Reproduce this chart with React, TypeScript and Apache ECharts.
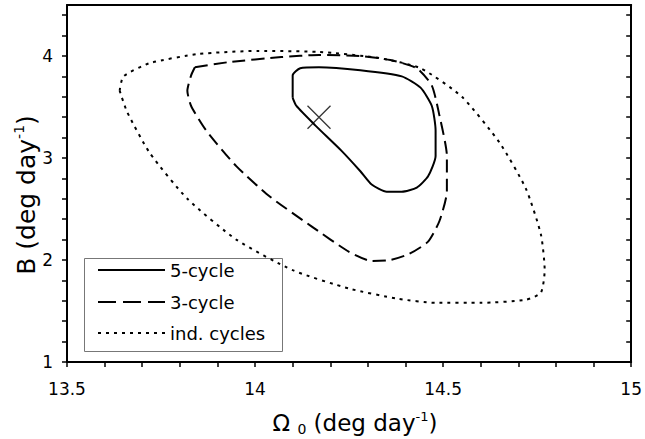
import React, { useEffect, useRef } from "react";
import * as echarts from "echarts";

// Contour data: [Omega0, B]
const fiveCycle: number[][] = [
  [14.10, 3.59], [14.10, 3.81], [14.12, 3.88], [14.17, 3.89], [14.28, 3.86],
  [14.39, 3.80], [14.44, 3.69], [14.47, 3.51], [14.48, 3.27], [14.48, 3.02],
  [14.46, 2.82], [14.43, 2.71], [14.39, 2.67], [14.35, 2.67], [14.31, 2.74],
  [14.28, 2.87], [14.23, 3.07], [14.16, 3.32], [14.11, 3.51], [14.10, 3.59],
];

const threeCycle: number[][] = [
  [13.84, 3.89], [13.93, 3.94], [14.07, 3.99], [14.17, 4.01], [14.28, 4.00],
  [14.36, 3.96], [14.43, 3.88], [14.47, 3.71], [14.49, 3.42], [14.51, 3.02],
  [14.51, 2.67], [14.49, 2.38], [14.46, 2.18], [14.41, 2.06], [14.36, 2.00],
  [14.31, 1.99], [14.25, 2.08], [14.15, 2.33], [14.04, 2.62], [13.95, 2.92],
  [13.87, 3.27], [13.83, 3.51], [13.82, 3.66], [13.83, 3.81], [13.84, 3.89],
];

const indCycles: number[][] = [
  [13.64, 3.66], [13.65, 3.80], [13.72, 3.93], [13.85, 4.02], [14.01, 4.05],
  [14.17, 4.04], [14.33, 3.98], [14.44, 3.88], [14.55, 3.60], [14.65, 3.15],
  [14.72, 2.70], [14.76, 2.25], [14.77, 1.90], [14.76, 1.68], [14.72, 1.61],
  [14.60, 1.58], [14.48, 1.58], [14.38, 1.62], [14.25, 1.72], [14.10, 1.90],
  [13.95, 2.20], [13.82, 2.60], [13.72, 3.05], [13.66, 3.45], [13.64, 3.66],
];

const bestFit: number[][] = [[14.17, 3.40]];

const seriesNames = ["5-cycle", "3-cycle", "ind. cycles"];

const xTicks = [13.5, 13.6, 13.7, 13.8, 13.9, 14, 14.1, 14.2, 14.3, 14.4, 14.5, 14.6, 14.7, 14.8, 14.9, 15];
const xLabels = [13.5, 14, 14.5, 15];
const yTicks = [1, 1.2, 1.4, 1.6, 1.8, 2, 2.2, 2.4, 2.6, 2.8, 3, 3.2, 3.4, 3.6, 3.8, 4, 4.2, 4.4];
const yLabels = [1, 2, 3, 4];

const FONT = "DejaVu Sans";
const dashes: (number[] | null)[] = [null, [13, 6], [3, 5]];
const legendDashes: (number[] | null)[] = [null, [18, 7], [3, 5]];

export default function App() {
  const ref = useRef<HTMLDivElement>(null);
  useEffect(() => {
    if (!ref.current) return;
    const chart = echarts.init(ref.current, undefined, { renderer: "svg" });
    const axisLine = { show: true, onZero: false, lineStyle: { color: "#000", width: 2 } };

    const legendX = 84.5, legendY = 258.5, legendW = 198, legendH = 93;
    const rowY = [270, 302, 333];
    const legendChildren: any[] = [
      {
        type: "rect",
        shape: { x: legendX, y: legendY, width: legendW, height: legendH },
        style: { fill: "#fff", stroke: "#777", lineWidth: 1 },
      },
    ];
    seriesNames.forEach((name, i) => {
      legendChildren.push({
        type: "line",
        shape: { x1: 98, y1: rowY[i], x2: 165, y2: rowY[i] },
        style: { stroke: "#000", lineWidth: 2, lineDash: legendDashes[i] || undefined },
      });
      legendChildren.push({
        type: "text",
        x: 170, y: rowY[i],
        style: { text: name, fontSize: 18, fontFamily: FONT, fill: "#000", verticalAlign: "middle", align: "left" },
      });
    });

    const option: any = {
      animation: false,
      backgroundColor: "#fff",
      grid: { left: 67, right: 12, top: 5, bottom: 77, containLabel: false },
      xAxis: [
        {
          type: "value", min: 13.5, max: 15, position: "bottom",
          axisLine,
          axisTick: { show: true, length: 5, lineStyle: { color: "#000", width: 1.5 }, customValues: xTicks },
          axisLabel: { customValues: xLabels, margin: 18, color: "#000", fontSize: 17, fontFamily: FONT },
          splitLine: { show: false },
        },
        {
          type: "value", min: 13.5, max: 15, position: "top",
          axisLine, axisTick: { show: false }, axisLabel: { show: false }, splitLine: { show: false },
        },
      ],
      yAxis: [
        {
          type: "value", min: 1, max: 4.5, position: "left",
          axisLine,
          axisTick: { show: true, length: 5, lineStyle: { color: "#000", width: 1.5 }, customValues: yTicks },
          axisLabel: { customValues: yLabels, margin: 14, color: "#000", fontSize: 17, fontFamily: FONT },
          splitLine: { show: false },
        },
        {
          type: "value", min: 1, max: 4.5, position: "right",
          axisLine,
          axisTick: { show: true, inside: true, length: 5, lineStyle: { color: "#000", width: 1.5 }, customValues: yTicks },
          axisLabel: { show: false },
          splitLine: { show: false },
        },
      ],
      series: [
        {
          name: seriesNames[0], type: "line", data: fiveCycle, symbol: "none", smooth: 0.2,
          lineStyle: { color: "#000", width: 2, type: "solid" },
        },
        {
          name: seriesNames[1], type: "line", data: threeCycle, symbol: "none", smooth: 0.2,
          lineStyle: { color: "#000", width: 2, type: dashes[1] },
        },
        {
          name: seriesNames[2], type: "line", data: indCycles, symbol: "none", smooth: 0.2,
          lineStyle: { color: "#000", width: 2, type: dashes[2] },
        },
        {
          name: "best", type: "scatter", data: bestFit,
          symbol: "path://M0 0L20 20M20 0L0 20", symbolSize: 23,
          itemStyle: { color: "transparent", borderColor: "#000", borderWidth: 1.3 },
          z: 5,
        },
      ],
      graphic: [
        { type: "group", z: 20, children: legendChildren },
        {
          type: "text", x: 355, y: 423,
          style: {
            text: "{a|Ω }{s|0}{a| (deg day}{p|-1}{a|)}",
            align: "center", verticalAlign: "middle",
            fill: "#000",
            rich: {
              a: { fontSize: 23, fontFamily: FONT, lineHeight: 26, fill: "#000" },
              s: { fontSize: 14, fontFamily: FONT, lineHeight: 26, verticalAlign: "bottom", fill: "#000" },
              p: { fontSize: 13, fontFamily: FONT, lineHeight: 26, verticalAlign: "top", fill: "#000" },
            },
          },
        },
        {
          type: "text", x: 26, y: 195, rotation: Math.PI / 2,
          style: {
            text: "{a|B (deg day}{p|-1}{a|)}",
            align: "center", verticalAlign: "middle",
            fill: "#000",
            rich: {
              a: { fontSize: 25, fontFamily: FONT, lineHeight: 28, fill: "#000" },
              p: { fontSize: 14, fontFamily: FONT, lineHeight: 28, verticalAlign: "top", fill: "#000" },
            },
          },
        },
      ],
    };
    chart.setOption(option);
    return () => chart.dispose();
  }, []);
  return (
    <div
      ref={ref}
      style={{ position: "fixed", left: 0, top: 0, width: 645, height: 439, background: "#fff" }}
    />
  );
}
